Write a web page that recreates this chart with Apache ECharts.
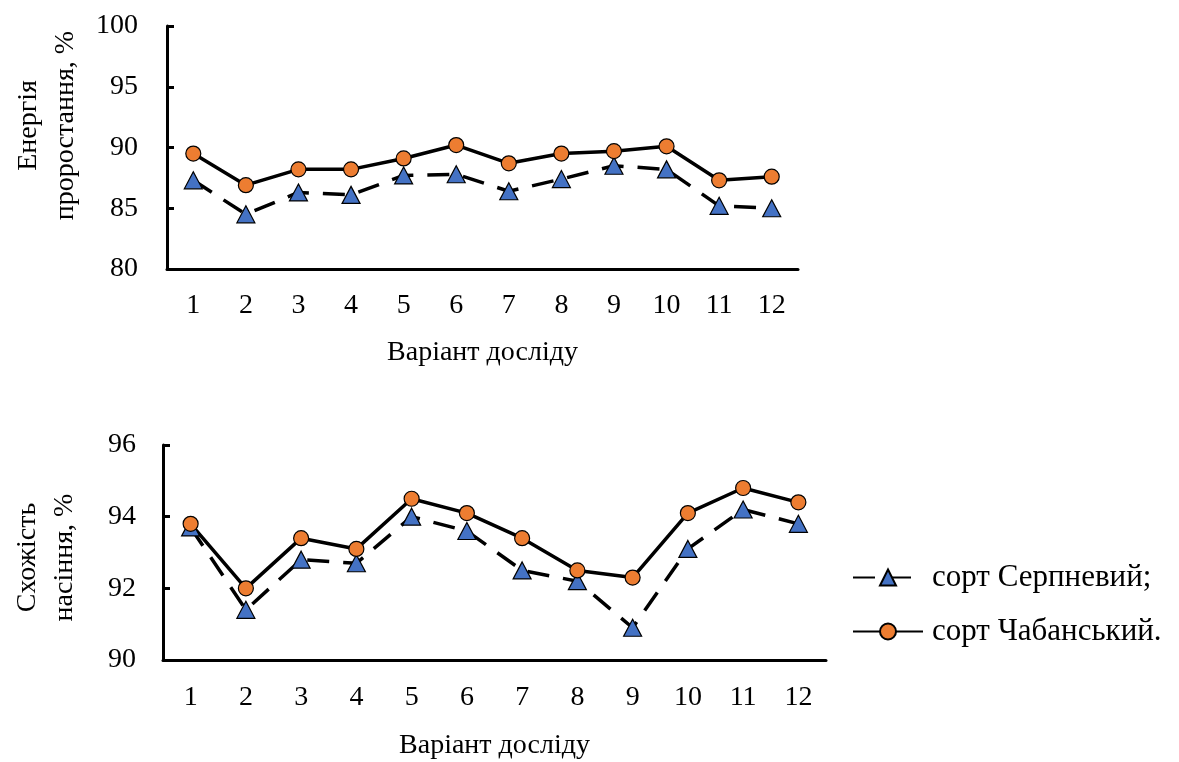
<!DOCTYPE html>
<html><head><meta charset="utf-8">
<script src="https://cdn.jsdelivr.net/npm/echarts@6/dist/echarts.min.js"></script>
<style>html,body{margin:0;padding:0;background:#fff}#c{width:1179px;height:762px}</style>
</head><body><div id="c"></div>
<script>
const categories = ['1','2','3','4','5','6','7','8','9','10','11','12'];
const seriesNames = ['сорт Серпневий;', 'сорт Чабанський.'];
const energySerpnevyi = [87.3, 84.5, 86.3, 86.1, 87.7, 87.8, 86.4, 87.4, 88.5, 88.2, 85.2, 85.0];
const energyChabanskyi = [89.5, 86.9, 88.2, 88.2, 89.1, 90.2, 88.7, 89.5, 89.7, 90.1, 87.3, 87.6];
const germSerpnevyi = [93.7, 91.4, 92.8, 92.7, 94.0, 93.6, 92.5, 92.2, 90.9, 93.1, 94.2, 93.8];
const germChabanskyi = [93.8, 92.0, 93.4, 93.1, 94.5, 94.1, 93.4, 92.5, 92.3, 94.1, 94.8, 94.4];
const topAxisRange = [80, 100, 5];
const bottomAxisRange = [90, 96, 2];
const xAxisTitle = 'Варіант досліду';
const topYTitle = 'Енергія\nпроростання, %';
const bottomYTitle = 'Схожість\nнасіння, %';

const FONT = "'Liberation Serif', 'Times New Roman', serif";
const FS = 28;
const BLACK = '#000';
const BLUE = '#4472C4';
const ORANGE = '#ED7D31';

const axisLine = { lineStyle: { color: BLACK, width: 3 } };
const axisTick = { inside: true, length: 7, lineStyle: { color: BLACK, width: 3 } };
const label = { color: BLACK, fontFamily: FONT, fontSize: FS };

function xAxis(gridIndex, nameGap, margin) {
  return {
    type: 'category', gridIndex, data: categories, boundaryGap: true,
    axisLine, axisTick, splitLine: { show: false },
    axisLabel: Object.assign({ margin, interval: 0 }, label),
    name: xAxisTitle, nameLocation: 'middle', nameGap,
    nameTextStyle: { color: BLACK, fontFamily: FONT, fontSize: FS }
  };
}
function yAxis(gridIndex, range, title, nameGap, margin, pad) {
  return {
    type: 'value', gridIndex, min: range[0], max: range[1], interval: range[2],
    axisLine: Object.assign({ show: true }, axisLine), axisTick: Object.assign({ show: true }, axisTick),
    splitLine: { show: false },
    axisLabel: Object.assign({ margin }, label),
    name: title,
    nameLocation: 'middle', nameGap, nameRotate: 90,
    nameTextStyle: { color: BLACK, fontFamily: FONT, fontSize: FS, lineHeight: 37, padding: pad }
  };
}
function serpSeries(idx, data) {
  return {
    name: seriesNames[0], type: 'line', xAxisIndex: idx, yAxisIndex: idx, data,
    symbol: 'triangle', symbolSize: [18, 17],
    lineStyle: { color: BLACK, width: 3.5, type: [22, 14] },
    itemStyle: { color: BLUE, borderColor: BLACK, borderWidth: 1.2 },
    emphasis: { disabled: true }, animation: false
  };
}
function chabSeries(idx, data) {
  return {
    name: seriesNames[1], type: 'line', xAxisIndex: idx, yAxisIndex: idx, data,
    symbol: 'circle', symbolSize: 15,
    lineStyle: { color: BLACK, width: 3.5 },
    itemStyle: { color: ORANGE, borderColor: BLACK, borderWidth: 1.2 },
    emphasis: { disabled: true }, animation: false
  };
}

const chart = echarts.init(document.getElementById('c'), null, { renderer: 'canvas' });
chart.setOption({
  backgroundColor: '#fff',
  animation: false,
  grid: [
    { left: 167, top: 26, width: 631, height: 243, containLabel: false, outerBoundsMode: 'none' },
    { left: 163, top: 445, width: 663, height: 215, containLabel: false, outerBoundsMode: 'none' }
  ],
  xAxis: [xAxis(0, 70, 23), xAxis(1, 72, 24)],
  yAxis: [
    yAxis(0, topAxisRange, topYTitle, 83, 29, [0, 0, 0, 44]),
    yAxis(1, bottomAxisRange, bottomYTitle, 80, 27, [0, 10, 0, 0])
  ],
  legend: {
    orient: 'vertical', left: 852, top: 562, padding: 0,
    itemWidth: 70, itemHeight: 20, itemGap: 23,
    data: seriesNames,
    textStyle: { color: BLACK, fontFamily: FONT, fontSize: 31, lineHeight: 30, padding: [0, 0, 0, 4] }
  },
  series: [
    serpSeries(0, energySerpnevyi), chabSeries(0, energyChabanskyi),
    serpSeries(1, germSerpnevyi), chabSeries(1, germChabanskyi)
  ]
});
</script></body></html>
